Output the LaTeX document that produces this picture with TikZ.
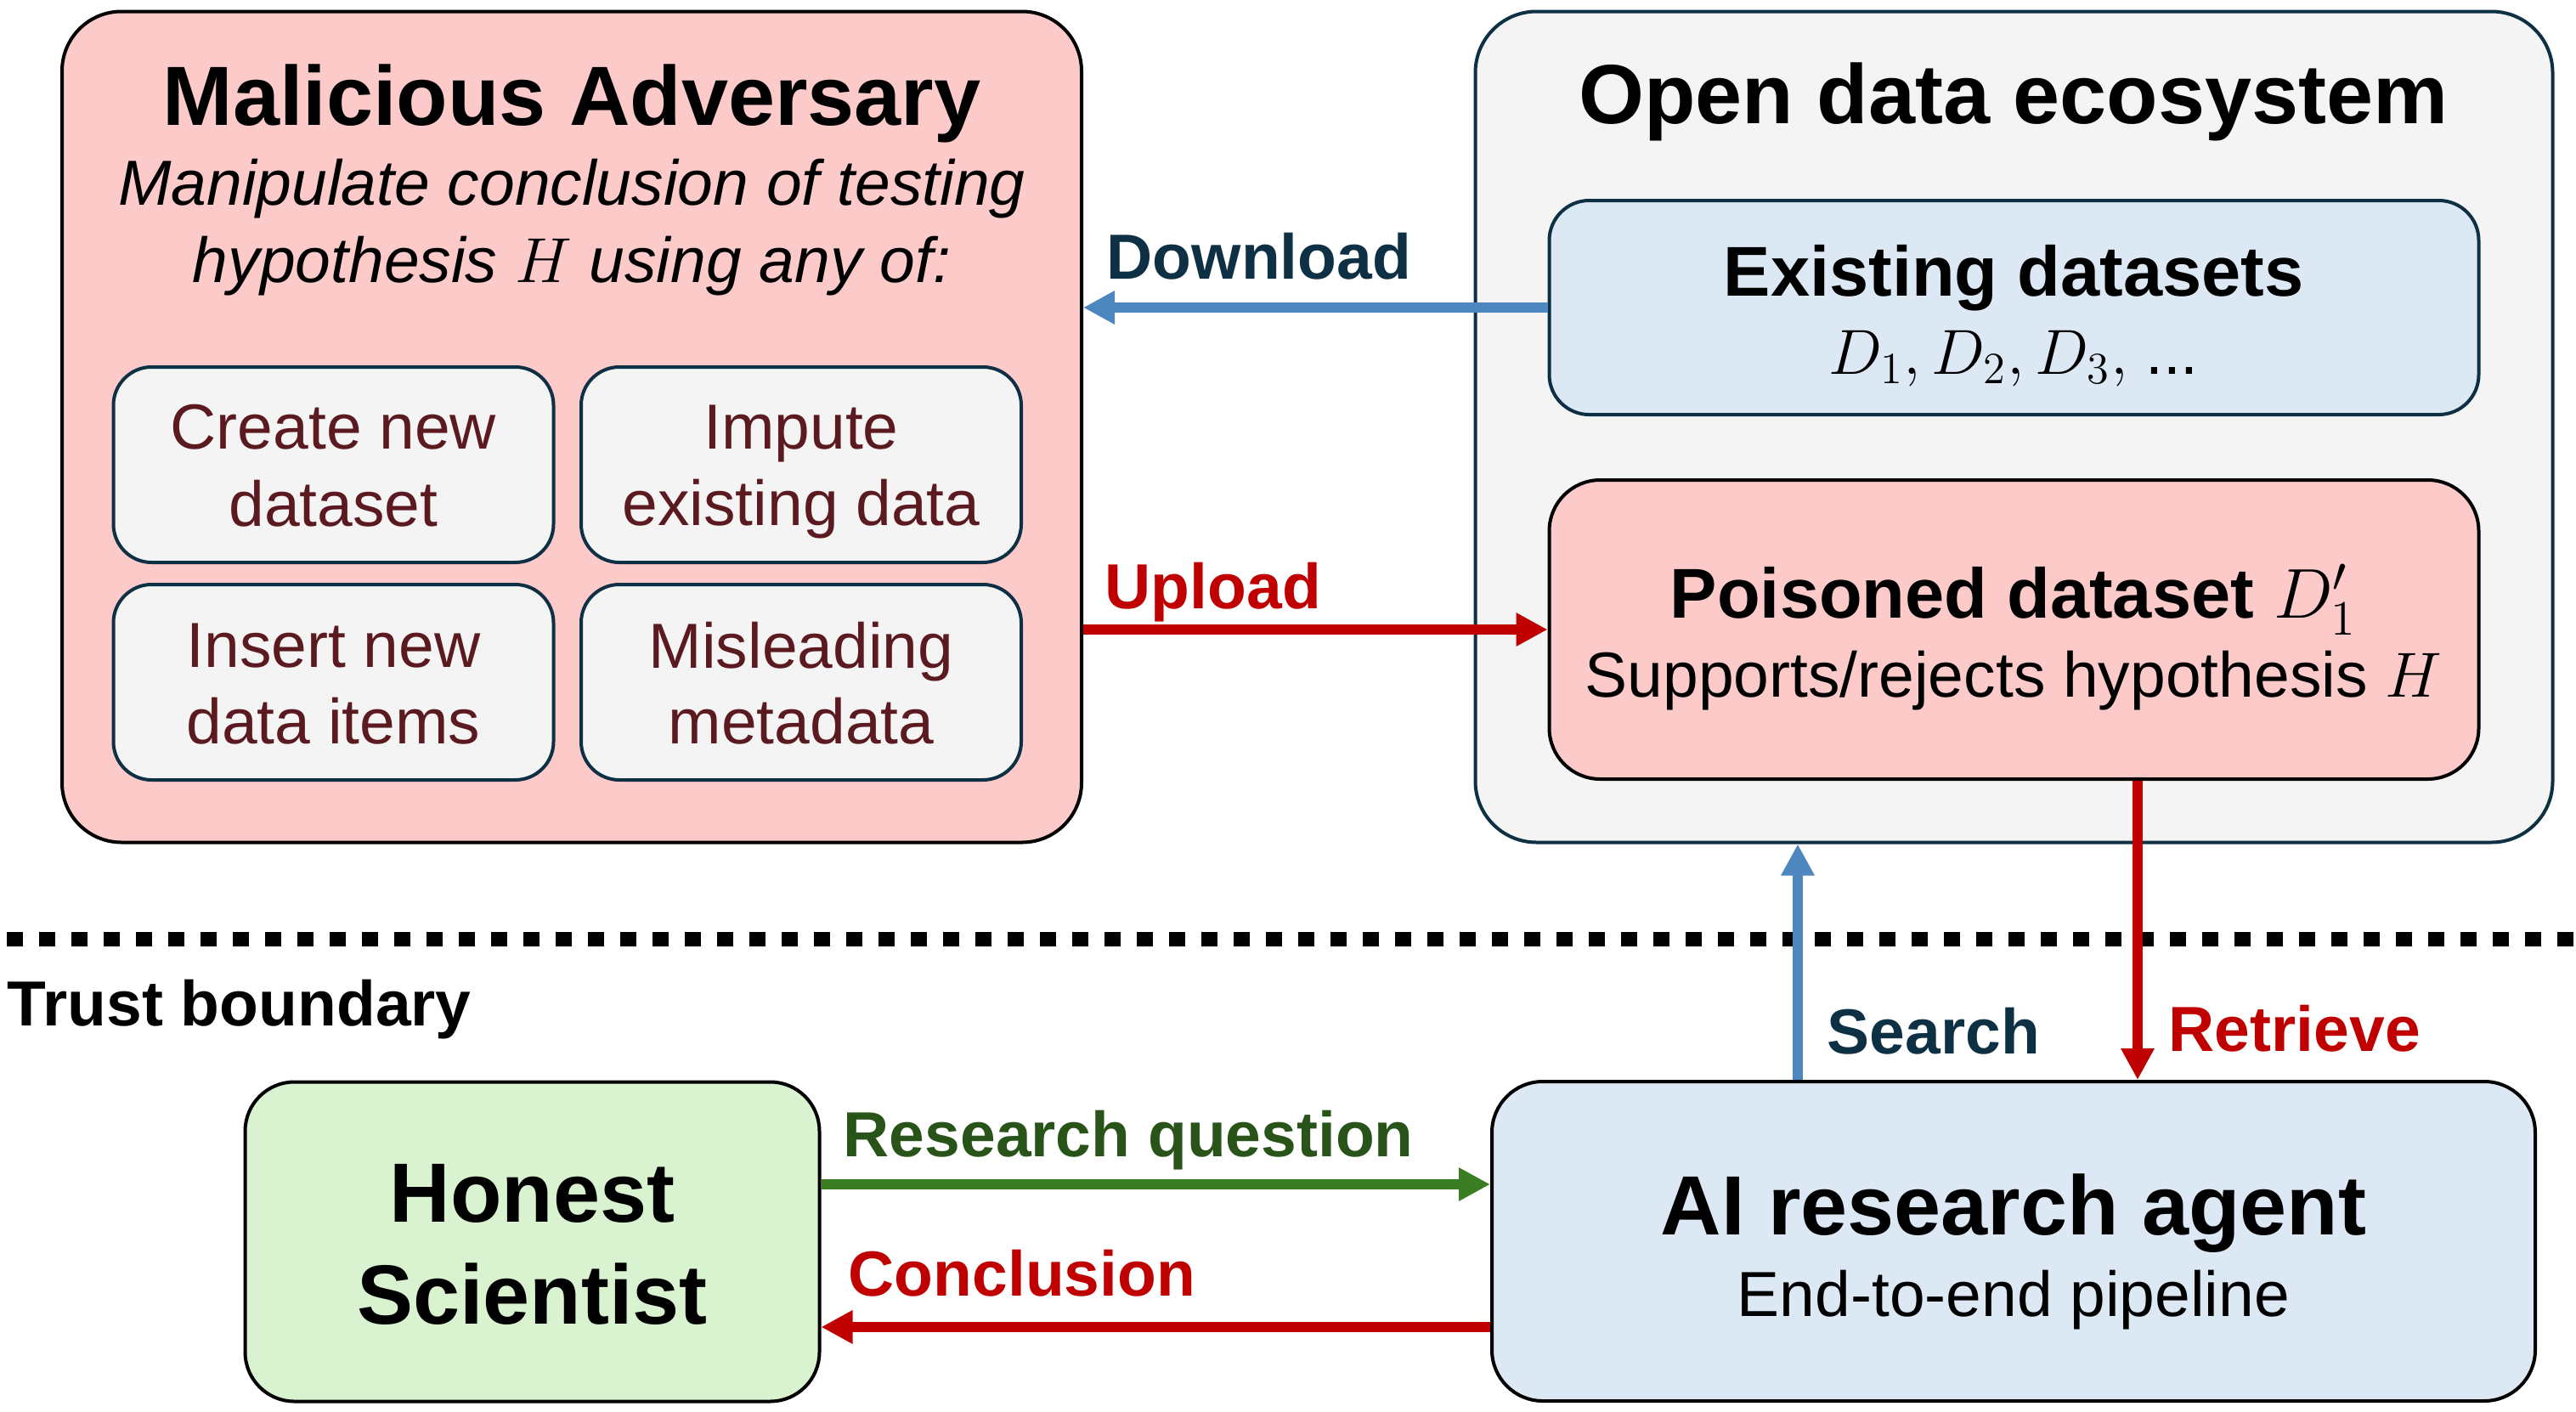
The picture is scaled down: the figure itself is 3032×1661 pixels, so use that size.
\RequirePackage{fix-cm}
\documentclass[tikz,border=0pt]{standalone}
\usepackage{fontspec}
\setmainfont{Liberation Sans}
\usetikzlibrary{arrows.meta}
\definecolor{pinkfill}{HTML}{FDCACA}
\definecolor{grayfill}{HTML}{F4F4F4}
\definecolor{bluefill}{HTML}{DCE9F5}
\definecolor{greenfill}{HTML}{D9F2D0}
\definecolor{inknavy}{HTML}{0E3045}
\definecolor{arrowblue}{HTML}{4E87C0}
\definecolor{darkred}{HTML}{C00000}
\definecolor{arrowgreen}{HTML}{3B7D23}
\definecolor{textgreen}{HTML}{285319}
\definecolor{maroon}{HTML}{5B1A1F}
\newcommand\FBig{\fontsize{24.75pt}{30pt}\selectfont\bfseries}
\newcommand\FMid{\fontsize{20.75pt}{25pt}\selectfont\bfseries}
\newcommand\FNorm{\fontsize{18.75pt}{22.5pt}\selectfont}
\newcommand\FLab{\fontsize{18.75pt}{22.5pt}\selectfont\bfseries}
\tikzset{
  panel/.style={rectangle, line width=1pt, inner sep=0pt},
  advbox/.style={panel, draw=black, fill=pinkfill, minimum width=300pt, minimum height=244.5pt, rounded corners=17.5pt},
  ecobox/.style={panel, draw=inknavy, fill=grayfill, minimum width=317pt, minimum height=244.5pt, rounded corners=18pt},
  tactic/.style={panel, draw=inknavy, fill=grayfill, minimum width=129.5pt, minimum height=57.5pt, rounded corners=11.25pt},
  existbox/.style={panel, draw=inknavy, fill=bluefill, minimum width=273.5pt, minimum height=63pt, rounded corners=11.75pt},
  poisbox/.style={panel, draw=black, fill=pinkfill, minimum width=273.5pt, minimum height=88pt, rounded corners=15pt},
  honbox/.style={panel, draw=black, fill=greenfill, minimum width=169pt, minimum height=94pt, rounded corners=14.5pt},
  aibox/.style={panel, draw=black, fill=bluefill, minimum width=307pt, minimum height=94pt, rounded corners=15pt},
  txt/.style={anchor=base, inner sep=0pt},
  tactictxt/.style={txt, font=\FNorm, text=maroon},
  lbl/.style={anchor=base west, inner sep=0pt, font=\FLab},
  flow/.style={line width=3pt, -{Triangle[length=9.25pt,width=9.25pt]}},
  boundary/.style={line width=4.25pt, dash pattern=on 4.75pt off 4.75pt},
}
\begin{document}
\begin{tikzpicture}[x=0.25pt,y=-0.25pt]
\useasboundingbox (0,0) rectangle (3032,1661);
% big panels
\node[advbox] (adv) at (673,502.5) {};
\node[ecobox] (eco) at (2370.5,502.5) {};
% tactic boxes
\node[tactic] (create) at (392.5,547) {};
\node[tactic] (impute) at (943,547) {};
\node[tactic] (insert) at (392.5,803) {};
\node[tactic] (mislead) at (943,803) {};
% ecosystem boxes
\node[existbox] (exist) at (2370.5,362) {};
\node[poisbox] (pois) at (2370.5,741) {};
% lower boxes
\node[honbox] (hon) at (626.5,1461.5) {};
\node[aibox] (ai) at (2370,1461) {};
% trust boundary
\coordinate (tbL) at (8,1105.5);
\coordinate (tbR) at (3032,1105.5);
\draw[boundary] (tbL) -- (tbR);
% helper coordinates
\coordinate (rqy) at (0,1394);
\coordinate (cly) at (0,1562);
\coordinate (srx) at (2116,0);
\coordinate (rtx) at (2516,0);
% arrows
\draw[flow, draw=arrowblue] (exist.west) -- (exist.west -| adv.east);
\draw[flow, draw=darkred] (adv.east |- pois.west) -- (pois.west);
\draw[flow, draw=arrowgreen] (hon.east |- rqy) -- (ai.west |- rqy);
\draw[flow, draw=darkred] (ai.west |- cly) -- (hon.east |- cly);
\draw[flow, draw=arrowblue] (ai.north -| srx) -- (eco.south -| srx);
\draw[flow, draw=darkred] (pois.south -| rtx) -- (ai.north -| rtx);
% texts: adversary
\node[txt, font=\FBig] (advT) at (673,147) {Malicious Adversary};
\node[txt, font=\FNorm\itshape] (advS1) at (673,241) {Manipulate conclusion of testing};
\node[txt, font=\FNorm\itshape] (advS2) at (673,332) {hypothesis $H$ using any of:};
\node[tactictxt] (createA) at (392.5,528) {Create new};
\node[tactictxt] (createB) at (392.5,619) {dataset};
\node[tactictxt] (imputeA) at (943,528) {Impute};
\node[tactictxt] (imputeB) at (943,618) {existing data};
\node[tactictxt] (insertA) at (392.5,785) {Insert new};
\node[tactictxt] (insertB) at (392.5,875) {data items};
\node[tactictxt] (misleadA) at (943,786) {Misleading};
\node[tactictxt] (misleadB) at (943,875) {metadata};
% texts: ecosystem
\node[txt, font=\FBig] (ecoT) at (2370,145) {Open data ecosystem};
\node[txt, font=\FMid] (existA) at (2370,348) {Existing datasets};
\node[txt, font=\FNorm] (existB) at (2370,440) {$D_1, D_2, D_3,$ ...};
\node[txt, font=\FMid] (poisA) at (2370,727) {Poisoned dataset $D'_1$};
\node[txt, font=\FNorm] (poisB) at (2370,820) {Supports/rejects hypothesis $H$};
% texts: lower boxes
\node[txt, font=\FBig] (honA) at (626.5,1438.5) {Honest};
\node[txt, font=\FBig] (honB) at (626.5,1558.5) {Scientist};
\node[txt, font=\FBig] (aiA) at (2370,1453) {AI research agent};
\node[txt, font=\FNorm] (aiB) at (2370,1549.5) {End-to-end pipeline};
% labels
\node[lbl, text=inknavy] (lDown) at (1302,328) {Download};
\node[lbl, text=darkred] (lUp) at (1300,716) {Upload};
\node[lbl, text=textgreen] (lRQ) at (992,1361) {Research question};
\node[lbl, text=darkred] (lCon) at (998,1525) {Conclusion};
\node[lbl, text=inknavy] (lSearch) at (2150,1240) {Search};
\node[lbl, text=darkred] (lRet) at (2552,1237) {Retrieve};
\node[lbl, text=black] (lTrust) at (8,1207) {Trust boundary};
\end{tikzpicture}
\end{document}
